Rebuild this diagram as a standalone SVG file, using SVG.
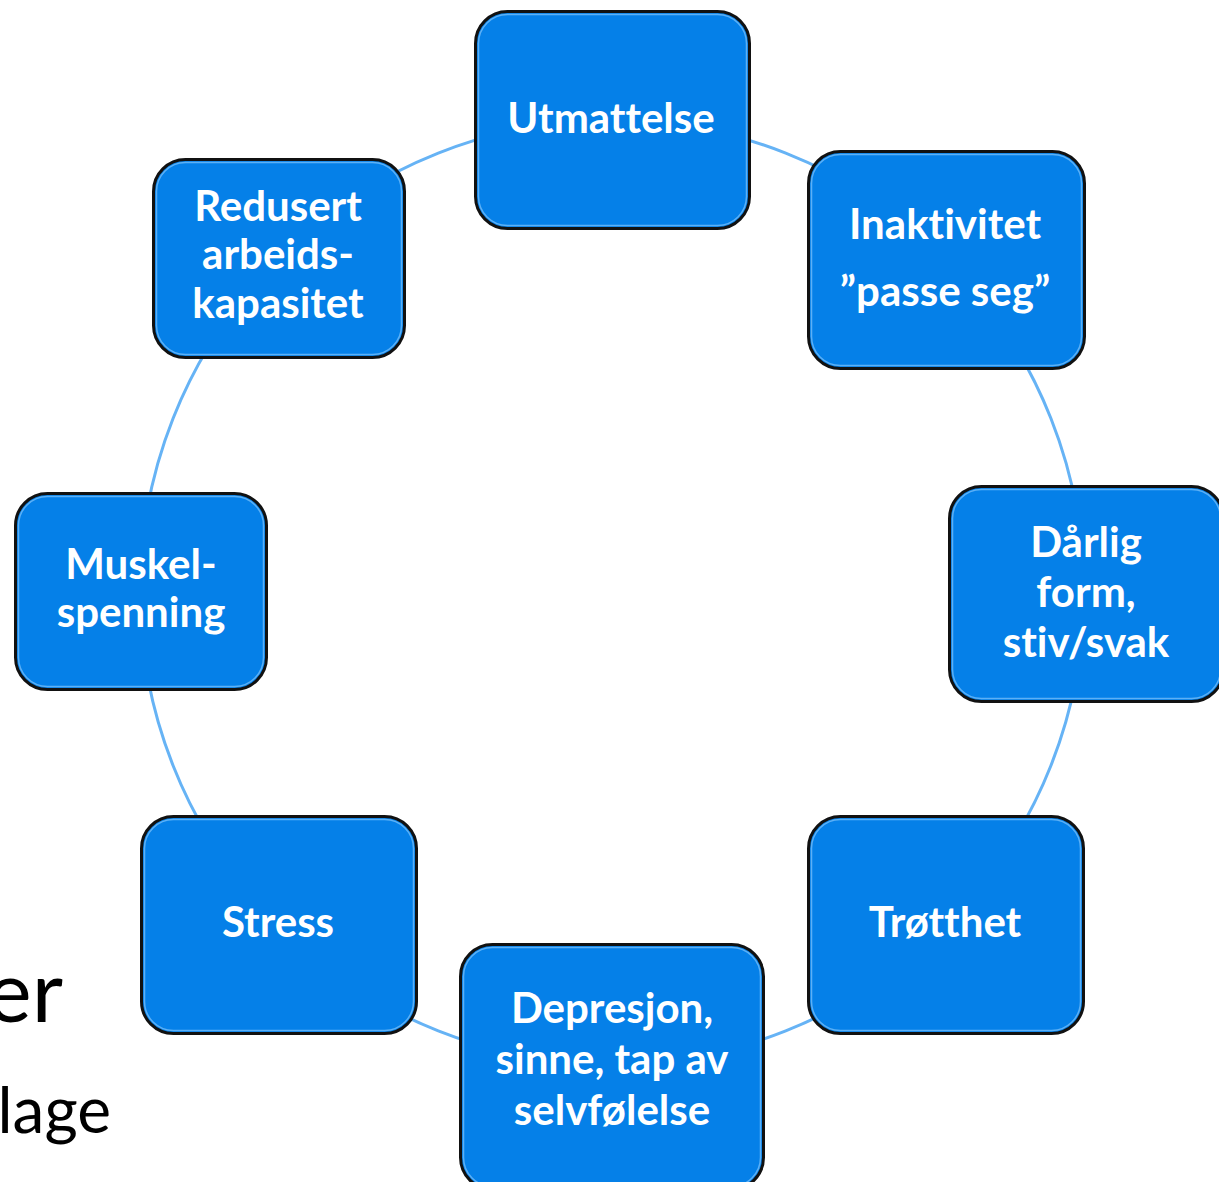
<svg xmlns="http://www.w3.org/2000/svg" width="1219" height="1182" viewBox="0 0 1219 1182">
  <style>
    .box { fill: #0580e8; stroke: #111111; stroke-width: 3; }
    .rim { fill: none; stroke: #5cb0f6; stroke-width: 1.5; }
    .lbl { font-family: "Lato", "Open Sans", "Liberation Sans", sans-serif; font-weight: 700; font-size: 42px; fill: #ffffff; text-anchor: middle; font-variant-ligatures: none; }
    .body { font-family: "Lato", "Open Sans", "Liberation Sans", sans-serif; fill: #000000; text-anchor: end; font-variant-ligatures: none; }
    .ring { fill: none; stroke: #66b3f5; stroke-width: 3; }
  </style>

  <rect width="1219" height="1182" fill="#ffffff"/>

  <!-- slide body text behind the cycle -->
  <text class="body" x="63" y="1022" font-size="86">er</text>
  <text class="body" x="111" y="1133" font-size="64">lage</text>

  <!-- connectors: one ring through all node centres -->
  <g id="connectors">
    <circle class="ring" cx="612" cy="592" r="472"/>
  </g>

  <g id="node-utmattelse">
    <rect class="box" x="475.5" y="11.5" width="274" height="217" rx="32"/>
    <rect class="rim" x="478.5" y="14.5" width="268" height="211" rx="29"/>
    <text class="lbl" x="611" y="133">Utmattelse</text>
  </g>

  <g id="node-inaktivitet">
    <rect class="box" x="808.5" y="151.5" width="276" height="217" rx="32"/>
    <rect class="rim" x="811.5" y="154.5" width="270" height="211" rx="29"/>
    <text class="lbl" x="945" y="239">Inaktivitet</text>
    <text class="lbl" x="945" y="306">”passe seg”</text>
  </g>

  <g id="node-darlig-form">
    <rect class="box" x="949.5" y="486.5" width="274" height="215" rx="32"/>
    <rect class="rim" x="952.5" y="489.5" width="268" height="209" rx="29"/>
    <text class="lbl" x="1086" y="557">Dårlig</text>
    <text class="lbl" x="1086" y="607">form,</text>
    <text class="lbl" x="1086" y="657">stiv/svak</text>
  </g>

  <g id="node-trotthet">
    <rect class="box" x="808.5" y="816.5" width="275" height="217" rx="32"/>
    <rect class="rim" x="811.5" y="819.5" width="269" height="211" rx="29"/>
    <text class="lbl" x="945" y="937">Trøtthet</text>
  </g>

  <g id="node-depresjon">
    <rect class="box" x="460.5" y="944.5" width="303" height="245" rx="32"/>
    <rect class="rim" x="463.5" y="947.5" width="297" height="239" rx="29"/>
    <text class="lbl" x="612" y="1023">Depresjon,</text>
    <text class="lbl" x="612" y="1074">sinne, tap av</text>
    <text class="lbl" x="612" y="1125">selvfølelse</text>
  </g>

  <g id="node-stress">
    <rect class="box" x="141.5" y="816.5" width="275" height="217" rx="32"/>
    <rect class="rim" x="144.5" y="819.5" width="269" height="211" rx="29"/>
    <text class="lbl" x="278" y="937">Stress</text>
  </g>

  <g id="node-muskelspenning">
    <rect class="box" x="15.5" y="493.5" width="251" height="196" rx="32"/>
    <rect class="rim" x="18.5" y="496.5" width="245" height="190" rx="29"/>
    <text class="lbl" x="141" y="579">Muskel-</text>
    <text class="lbl" x="141" y="627">spenning</text>
  </g>

  <g id="node-redusert">
    <rect class="box" x="153.5" y="159.5" width="251" height="198" rx="32"/>
    <rect class="rim" x="156.5" y="162.5" width="245" height="192" rx="29"/>
    <text class="lbl" x="278" y="221">Redusert</text>
    <text class="lbl" x="278" y="269">arbeids-</text>
    <text class="lbl" x="278" y="318">kapasitet</text>
  </g>
</svg>
